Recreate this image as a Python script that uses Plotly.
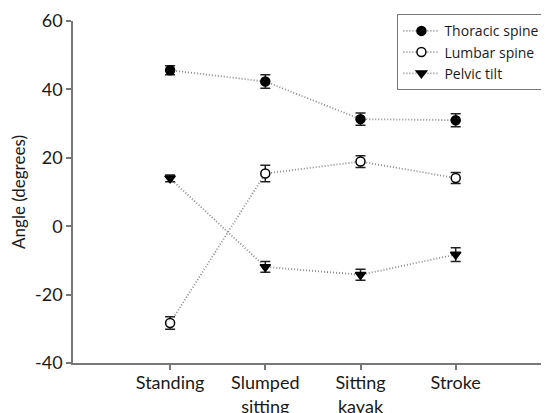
import plotly.graph_objects as go

categories = ["Standing", "Slumped<br>sitting", "Sitting<br>kayak", "Stroke"]
thoracic = [45.6, 42.3, 31.3, 31.0]
thoracic_err = [1.3, 2.0, 1.8, 1.9]
lumbar = [-28.3, 15.4, 18.9, 14.1]
lumbar_err = [1.8, 2.4, 1.7, 1.6]
pelvic = [14.0, -11.9, -14.2, -8.3]
pelvic_err = [1.0, 1.6, 1.6, 2.0]
series_names = ["Thoracic spine", "Lumbar spine", "Pelvic tilt"]
y_ticks = [-40, -20, 0, 20, 40, 60]
y_tick_labels = ["-40", "-20", "0", "20", "40", "60"]

xpos = list(range(len(categories)))

fig = go.Figure()
specs = [
    (series_names[0], thoracic, thoracic_err, "circle", "black"),
    (series_names[1], lumbar, lumbar_err, "circle", "white"),
    (series_names[2], pelvic, pelvic_err, "triangle-down", "black"),
]
for name, vals, errs, sym, fill in specs:
    fig.add_trace(go.Scatter(
        x=xpos, y=vals, name=name, mode="lines+markers",
        line=dict(color="#8a8a8a", width=1.8, dash="1px,2px"),
        marker=dict(symbol=sym, size=9, color=fill, line=dict(color="black", width=1.5)),
        error_y=dict(type="data", array=errs, visible=True, color="#222222", thickness=1.5, width=5),
    ))

# page body has an 8px margin: figure is drawn at (8, 8)
fig.update_layout(
    width=541, height=405,
    margin=dict(l=65, r=0, t=13, b=50, autoexpand=False),
    plot_bgcolor="white", paper_bgcolor="white",
    font=dict(family="Lato, Open Sans, sans-serif", size=15, color="#1a1a1a"),
    showlegend=True,
    legend=dict(xref="container", yref="container", x=0.993, y=0.985,
                xanchor="right", yanchor="top",
                bordercolor="#777777", borderwidth=1.2, bgcolor="white",
                font=dict(family="Open Sans, Lato, sans-serif", size=14),
                tracegroupgap=0, itemwidth=36),
    xaxis=dict(range=[-1.02, 3.98], tickvals=xpos, ticktext=categories,
               showgrid=False, zeroline=False, showline=True, linecolor="#777777", linewidth=1.5,
               ticks="outside", ticklen=5, tickcolor="#777777", tickwidth=1.5,
               tickfont=dict(size=18), ticklabelstandoff=-2),
    yaxis=dict(range=[-40, 60], tickvals=y_ticks, ticktext=y_tick_labels,
               showgrid=False, zeroline=False, showline=True, linecolor="#777777", linewidth=1.5,
               ticks="outside", ticklen=5, tickcolor="#777777", tickwidth=1.5,
               tickfont=dict(size=18),
               title=dict(text="Angle (degrees)", standoff=10, font=dict(size=17))),
)

fig.write_html("out.html")
